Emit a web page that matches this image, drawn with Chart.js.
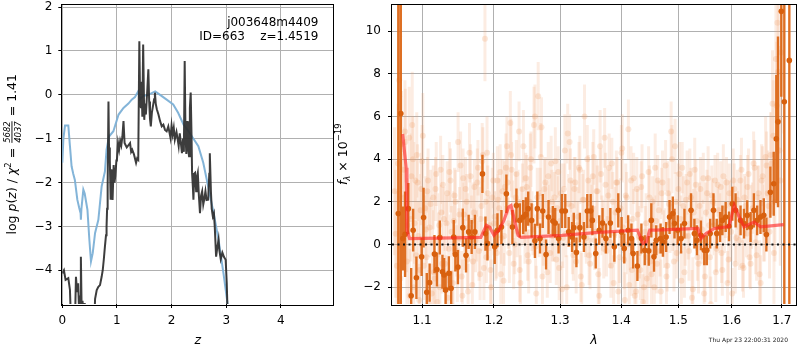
<!DOCTYPE html>
<html><head><meta charset="utf-8">
<script src="https://cdn.jsdelivr.net/npm/chart.js@4.4.1/dist/chart.umd.min.js"></script>
<style>
html,body{margin:0;padding:0;background:#fff}
#wrap{position:relative;width:800px;height:350px;overflow:hidden;background:#fff}
canvas{position:absolute;top:0}
</style>
</head><body>
<div id="wrap">
<canvas id="pz" width="336" height="350" style="left:0"></canvas>
<canvas id="sp" width="470" height="350" style="left:330px"></canvas>
</div>
<script>
// ---------------- Left panel: log p(z) ----------------
const zLimits = [0, 4.96];
const pzLimits = [-4.77, 2.06];
const zTicks = [0, 1, 2, 3, 4];
const pzTicks = [-4, -3, -2, -1, 0, 1, 2];

const zBlue = [0.00,0.02,0.05,0.11,0.14,0.17,0.20,0.23,0.275,0.31,0.335,0.34,0.35,0.385,0.41,0.46,0.495,0.525,0.557,0.60,0.66,0.72,0.78,0.81,0.855,0.935,1.03,1.12,1.21,1.27,1.33,1.39,1.42,1.48,1.575,1.70,1.79,1.91,2.03,2.12,2.22,2.31,2.40,2.49,2.58,2.67,2.77,2.86,2.95,3.05];
const pzBlue = [-1.55,-1.0,-0.70,-0.70,-1.17,-1.63,-1.80,-1.94,-2.39,-2.58,-2.70,-2.85,-2.6,-2.16,-2.25,-2.62,-3.3,-3.80,-3.61,-3.15,-2.85,-2.09,-1.75,-1.25,-0.95,-0.83,-0.45,-0.30,-0.20,-0.11,-0.05,0.08,-0.10,-0.03,0.0,0.08,0.0,-0.11,-0.22,-0.41,-0.68,-0.83,-1.0,-1.17,-1.55,-2.09,-2.70,-3.31,-4.07,-5.0];

const zBlack = [0.00,0.03,0.06,0.11,0.14,0.16,0.23,0.25,0.27,0.29,0.31,0.33,0.34,0.355,0.37,0.39,0.41,0.44,0.58,0.60,0.63,0.66,0.69,0.72,0.74,0.76,0.78,0.80,0.81,0.82,0.83,0.845,0.855,0.87,0.885,0.895,0.905,0.92,0.94,0.955,0.97,0.99,1.00,1.02,1.04,1.06,1.08,1.10,1.12,1.14,1.16,1.18,1.21,1.24,1.26,1.28,1.31,1.33,1.35,1.37,1.39,1.41,1.425,1.44,1.45,1.465,1.48,1.50,1.515,1.53,1.555,1.575,1.59,1.605,1.62,1.64,1.66,1.68,1.695,1.71,1.73,1.76,1.79,1.82,1.85,1.88,1.91,1.94,1.96,1.98,2.00,2.02,2.04,2.06,2.09,2.11,2.13,2.15,2.17,2.19,2.21,2.225,2.24,2.255,2.27,2.285,2.30,2.32,2.335,2.35,2.365,2.375,2.39,2.40,2.415,2.43,2.45,2.46,2.48,2.50,2.52,2.54,2.56,2.58,2.60,2.62,2.64,2.67,2.69,2.70,2.72,2.735,2.755,2.775,2.79,2.815,2.835,2.86,2.875,2.90,2.93,2.96,2.99,3.01,3.03];
const pzBlack = [-4.07,-4.00,-4.22,-4.18,-4.45,-5.2,-5.3,-4.15,-4.5,-4.3,-5.0,-4.6,-3.69,-5.0,-4.7,-5.0,-4.75,-5.4,-5.4,-4.65,-4.45,-4.38,-4.34,-4.15,-4.0,-3.75,-3.46,-3.2,-3.0,-2.6,-2.09,-0.15,-1.2,-1.5,-2.39,-1.7,-1.8,-2.4,-1.6,-2.0,-1.85,-1.5,-1.48,-1.1,-1.25,-1.05,-1.15,-0.95,-0.6,-1.1,-1.15,-1.2,-1.15,-1.1,-1.3,-1.25,-1.35,-1.45,-1.55,-1.45,-1.48,1.22,-0.2,-0.3,0.3,-0.5,1.15,-0.57,-0.2,-0.45,0.1,0.58,-0.15,-0.55,-0.72,-0.4,-0.25,-0.1,0.05,-0.2,-0.33,-0.45,-0.6,-0.72,-0.68,-0.8,-0.83,-0.72,-0.85,-0.98,-0.7,-0.9,-0.75,-1.02,-0.85,-1.0,-1.17,-0.88,-1.1,-1.33,-1.0,-1.3,0.77,-0.9,-1.35,-0.6,-1.2,-1.4,-0.3,0.05,-0.9,-1.78,-2.1,-2.39,-1.8,-1.78,-2.2,-1.9,-1.78,-2.3,-2.70,-2.3,-2.2,-2.5,-2.37,-2.2,-2.4,-2.39,-1.8,-1.33,-2.2,-2.6,-2.77,-2.7,-3.0,-3.69,-3.5,-3.3,-3.55,-3.75,-3.6,-3.7,-3.76,-4.3,-5.2];

const objName = "j003648m4409";
const objInfo = "ID=663    z=1.4519";

// ---------------- Right panel: spectrum ----------------
const lamLimits = [1.0607, 1.7295];
const fluxLimits = [-2.79, 11.25];
const lamTicks = [1.1, 1.2, 1.3, 1.4, 1.5, 1.6, 1.7];
const fluxTicks = [-2, 0, 2, 4, 6, 8, 10];

const boldWave = [1.0688,1.0721,1.0747,1.0776,1.0819,1.0856,1.0882,1.0925,1.0994,1.1020,1.1063,1.1101,1.1166,1.1200,1.1239,1.1275,1.1297,1.1318,1.1363,1.1394,1.1430,1.1452,1.1488,1.1556,1.1601,1.1638,1.1680,1.1726,1.1834,1.1877,1.1906,1.2011,1.2051,1.2109,1.2182,1.2271,1.2331,1.2381,1.2432,1.2472,1.2508,1.2559,1.2610,1.2647,1.2688,1.2730,1.2781,1.2819,1.2886,1.2923,1.2976,1.3029,1.3082,1.3136,1.3190,1.3217,1.3259,1.3315,1.3380,1.3435,1.3490,1.3518,1.3573,1.3630,1.3685,1.3741,1.3815,1.3882,1.3948,1.4004,1.4050,1.4116,1.4172,1.4201,1.4275,1.4344,1.4402,1.4472,1.4517,1.4564,1.4604,1.4681,1.4722,1.4780,1.4841,1.4900,1.4930,1.4990,1.5050,1.5111,1.5232,1.5294,1.5341,1.5415,1.5478,1.5526,1.5589,1.5651,1.5713,1.5777,1.5821,1.5884,1.5948,1.6012,1.6076,1.6173,1.6240,1.6304,1.6370,1.6436,1.6501,1.6567,1.6634,1.6686,1.6767,1.6835,1.6888,1.6922,1.6990,1.7052,1.7156];
const boldFlux = [1.45,6.14,0.28,0.48,1.68,-2.4,0.67,-1.56,-0.58,1.26,-2.24,-1.79,-0.45,-1.17,0.33,-1.28,-1.43,-2.13,-1.35,-2.05,0.35,-0.47,-1.06,0.79,-0.51,0.59,0.35,0.59,3.31,0.51,0.05,-0.11,0.67,0.82,2.38,0.82,1.83,1.13,1.29,1.41,1.68,1.13,0.17,1.68,0.28,1.57,-0.47,1.29,1.1,1.01,0.28,1.57,1.57,0.59,0.35,0.79,-0.37,0.79,0.35,1.57,1.57,1.13,-0.42,0.67,1.01,0.28,1.01,-0.11,1.6,0.59,-0.19,0.67,0.28,-0.42,-1.01,0.28,-0.27,-0.3,1.13,-0.58,0.2,0.28,0.12,0.35,1.29,1.45,0.98,0.67,0.28,0.98,1.6,0.51,0.2,0.43,-0.27,-0.27,0.51,1.6,0.51,0.82,1.13,1.29,0.85,1.91,1.6,1.13,0.98,1.37,0.82,1.6,1.13,1.29,1.37,0.47,2.45,2.85,4.95,5.75,10.93,6.69,8.63];
const boldErr = [30,30,1.5,2.0,1.2,1.3,1.0,1.0,0.9,1.4,0.9,0.9,0.9,0.8,0.8,0.8,0.8,0.8,0.8,0.8,0.8,0.8,0.8,0.9,0.8,0.8,0.8,0.8,0.9,0.8,0.8,0.8,0.8,0.8,0.9,0.8,0.8,0.8,0.8,0.8,0.8,0.8,0.8,0.8,0.7,0.8,0.7,0.8,0.7,0.7,0.7,0.8,0.8,0.7,0.7,0.7,0.7,0.7,0.7,0.8,0.8,0.7,0.7,0.7,0.7,0.7,0.7,0.7,0.8,0.7,0.7,0.7,0.7,0.7,0.7,0.7,0.7,0.7,0.8,0.7,0.7,0.7,0.7,0.7,0.8,0.8,0.7,0.7,0.7,0.7,0.8,0.7,0.7,0.7,0.7,0.7,0.7,0.8,0.7,0.7,0.7,0.7,0.7,0.8,0.8,0.7,0.7,0.7,0.7,0.8,0.7,0.8,0.8,0.8,1.2,1.5,3.0,4.0,4.0,30,30];

const faintWave = [1.064,1.067,1.070,1.073,1.076,1.078,1.080,1.083,1.085,1.087,1.089,1.091,1.093,1.095,1.097,1.099,1.101,1.104,1.106,1.108,1.110,1.113,1.115,1.117,1.119,1.122,1.124,1.126,1.128,1.131,1.133,1.135,1.137,1.140,1.142,1.144,1.147,1.149,1.151,1.154,1.156,1.158,1.161,1.163,1.165,1.168,1.170,1.172,1.175,1.177,1.180,1.182,1.184,1.187,1.189,1.191,1.194,1.196,1.199,1.201,1.204,1.206,1.209,1.211,1.214,1.216,1.219,1.221,1.224,1.226,1.229,1.232,1.234,1.237,1.239,1.242,1.245,1.247,1.250,1.253,1.255,1.258,1.261,1.263,1.266,1.269,1.271,1.274,1.277,1.280,1.283,1.286,1.288,1.291,1.294,1.297,1.300,1.303,1.306,1.309,1.312,1.315,1.318,1.321,1.324,1.327,1.330,1.333,1.336,1.339,1.342,1.345,1.348,1.351,1.354,1.357,1.360,1.363,1.366,1.369,1.372,1.375,1.378,1.381,1.384,1.387,1.390,1.393,1.397,1.400,1.403,1.406,1.409,1.412,1.415,1.418,1.421,1.425,1.428,1.431,1.434,1.437,1.441,1.444,1.447,1.450,1.454,1.457,1.460,1.463,1.467,1.470,1.473,1.477,1.480,1.483,1.487,1.490,1.494,1.497,1.500,1.504,1.507,1.511,1.514,1.518,1.521,1.525,1.528,1.532,1.535,1.539,1.542,1.546,1.549,1.553,1.557,1.560,1.564,1.568,1.571,1.575,1.579,1.582,1.586,1.590,1.594,1.597,1.601,1.605,1.609,1.613,1.617,1.621,1.625,1.629,1.633,1.637,1.641,1.645,1.649,1.653,1.657,1.661,1.665,1.669,1.673,1.677,1.681,1.684,1.688,1.691,1.694,1.697];
const faintFlux = [2.5,-1.0,7.7,4.7,3.5,4.8,-0.8,5.0,1.2,5.6,-2.0,3.0,4.2,0.4,-1.2,2.6,5.1,1.7,-0.6,3.0,0.8,-2.3,2.2,-1.6,3.3,0.2,-2.0,1.5,2.8,-0.9,1.0,-2.5,3.4,0.6,-1.8,2.3,-0.3,4.8,1.4,-1.5,3.1,0.0,2.0,-2.2,4.3,1.1,-0.8,2.7,0.4,3.6,-1.4,1.8,4.2,9.65,-0.6,2.4,0.9,-2.0,3.0,1.3,-0.4,2.1,3.4,0.3,-1.7,2.7,4.6,1.0,5.7,3.5,-0.9,2.2,0.6,5.3,-1.8,2.6,1.2,3.1,-0.5,2.0,4.0,0.7,6.0,-2.3,6.95,2.4,5.5,0.2,2.9,-1.3,1.6,3.8,0.4,2.2,-0.7,3.4,1.1,-2.1,2.6,0.5,5.2,4.8,1.8,-0.5,2.9,0.9,3.6,-1.5,2.1,6.0,0.3,3.0,-0.9,1.7,4.1,0.6,2.5,-2.4,3.3,1.0,5.0,-0.3,2.3,0.1,3.8,-1.8,1.5,2.9,-0.6,4.3,0.8,-2.6,2.2,5.4,0.0,-1.2,3.1,-2.2,1.4,-0.4,2.7,-2.7,0.6,-1.6,3.4,-0.8,2.0,-2.0,1.1,3.0,-0.3,2.4,0.5,3.7,-1.0,1.9,5.3,0.8,4.6,-0.4,2.6,1.2,3.6,-1.3,2.1,0.4,3.3,-2.5,1.5,2.8,-0.6,1.8,0.2,3.1,-1.5,2.4,0.9,-2.8,2.0,3.0,-0.2,1.6,2.7,-1.2,0.7,2.9,-0.7,1.9,-2.3,2.6,0.3,1.4,3.0,-1.0,2.2,0.5,3.3,-0.9,1.7,3.6,-0.5,2.4,-1.8,3.2,0.6,3.7,1.8,4.2,6.6,-0.4,8.7,10.4,5.8,3.0];
const faintErr = [3.0,3.5,3.5,2.5,2.0,2.5,2.0,2.4,2.0,2.5,2.0,1.8,2.0,1.6,1.6,1.7,2.0,1.5,1.5,1.5,1.4,1.4,1.5,1.3,1.5,1.3,1.4,1.3,1.4,1.3,1.3,1.3,1.4,1.2,1.3,1.3,1.2,1.4,1.3,1.2,1.4,1.2,1.3,1.3,1.4,1.2,1.2,1.3,1.2,1.3,1.2,1.3,1.3,2.0,1.2,1.3,1.2,1.3,1.3,1.2,1.2,1.2,1.3,1.2,1.3,1.2,1.4,1.2,1.5,1.3,1.2,1.2,1.2,1.4,1.3,1.2,1.2,1.2,1.2,1.2,1.3,1.2,1.5,1.3,1.6,1.2,1.4,1.2,1.2,1.2,1.2,1.3,1.2,1.2,1.2,1.2,1.2,1.3,1.2,1.1,1.4,1.3,1.2,1.2,1.2,1.1,1.2,1.2,1.2,1.5,1.2,1.2,1.2,1.1,1.3,1.2,1.2,1.3,1.2,1.1,1.4,1.2,1.2,1.2,1.2,1.3,1.2,1.2,1.2,1.3,1.2,1.3,1.2,1.4,1.2,1.2,1.2,1.3,1.2,1.2,1.2,1.3,1.2,1.2,1.2,1.2,1.2,1.2,1.2,1.2,1.2,1.2,1.1,1.2,1.2,1.2,1.4,1.1,1.3,1.2,1.2,1.1,1.2,1.2,1.2,1.1,1.2,1.3,1.1,1.2,1.1,1.1,1.1,1.2,1.2,1.1,1.1,1.3,1.1,1.2,1.1,1.1,1.2,1.2,1.1,1.2,1.1,1.1,1.2,1.2,1.1,1.1,1.2,1.2,1.1,1.1,1.2,1.2,1.2,1.3,1.2,1.3,1.3,1.4,1.4,1.6,1.8,2.0,2.5,2.5,3.0,3.5,3.5,4.0];

const faint2Wave = [1.0655,1.0685,1.0715,1.0745,1.0775,1.0805,1.0835,1.0860,1.0880,1.0900,
1.0920,1.0940,1.0960,1.0980,1.1000,1.1025,1.1050,1.1070,1.1090,1.1115,
1.1140,1.1160,1.1180,1.1205,1.1230,1.1250,1.1270,1.1295,1.1320,1.1340,
1.1360,1.1385,1.1410,1.1430,1.1455,1.1480,1.1500,1.1525,1.1550,1.1570,
1.1595,1.1620,1.1640,1.1665,1.1690,1.1710,1.1735,1.1760,1.1785,1.1810,
1.1830,1.1855,1.1880,1.1900,1.1925,1.1950,1.1975,1.2000,1.2025,1.2050,
1.2075,1.2100,1.2125,1.2150,1.2175,1.2200,1.2225,1.2250,1.2275,1.2305,
1.2330,1.2355,1.2380,1.2405,1.2435,1.2460,1.2485,1.2515,1.2540,1.2565,
1.2595,1.2620,1.2645,1.2675,1.2700,1.2725,1.2755,1.2785,1.2815,1.2845,
1.2870,1.2900,1.2925,1.2955,1.2985,1.3015,1.3045,1.3075,1.3105,1.3135,
1.3165,1.3195,1.3225,1.3255,1.3285,1.3315,1.3345,1.3375,1.3405,1.3435,
1.3465,1.3495,1.3525,1.3555,1.3585,1.3615,1.3645,1.3675,1.3705,1.3735,
1.3765,1.3795,1.3825,1.3855,1.3885,1.3915,1.3950,1.3985,1.4015,1.4045,
1.4075,1.4105,1.4135,1.4165,1.4195,1.4230,1.4265,1.4295,1.4325,1.4355,
1.4390,1.4425,1.4455,1.4485,1.4520,1.4555,1.4585,1.4615,1.4650,1.4685,
1.4715,1.4750,1.4785,1.4815,1.4850,1.4885,1.4920,1.4955,1.4985,1.5020,
1.5055,1.5090,1.5125,1.5160,1.5195,1.5230,1.5265,1.5300,1.5335,1.5370,
1.5405,1.5440,1.5475,1.5510,1.5550,1.5585,1.5620,1.5660,1.5695,1.5730,
1.5770,1.5805,1.5840,1.5880,1.5920,1.5955,1.5990,1.6030,1.6070,1.6110,
1.6150,1.6190,1.6230,1.6270,1.6310,1.6350,1.6390,1.6430,1.6470,1.6510,
1.6550,1.6590,1.6630,1.6670,1.6710,1.6750,1.6790,1.6825,1.6860,1.6895,
1.6925,1.6955,1.6985];
const faint2Flux = [0.5,3.8,-1.6,2.2,5.3,0.9,-2.4,3.2,4.0,1.0,
-0.5,2.9,-2.6,1.6,3.9,-1.0,0.7,2.5,-2.8,1.9,
0.1,-1.3,2.6,-2.7,0.9,3.5,-0.9,1.2,-2.1,2.4,
-0.2,3.0,-2.9,1.1,2.0,-1.1,0.3,3.7,-2.4,1.4,
2.6,-0.7,0.8,3.2,-1.9,1.5,0.2,2.9,-0.3,1.2,
3.9,-1.1,2.0,4.3,0.8,-1.2,2.2,1.0,-0.2,3.0,
1.7,-1.4,2.5,0.4,3.6,2.9,-0.4,4.2,1.5,0.0,
3.3,2.0,-1.2,1.3,4.6,0.5,2.7,-0.8,3.6,1.1,
5.6,-0.1,2.2,0.9,4.1,-1.5,2.6,1.4,3.2,-0.4,
2.0,0.6,3.9,1.7,-1.1,2.4,0.3,4.4,-2.0,1.9,
3.0,0.0,2.6,-0.8,1.3,3.5,-1.9,2.1,0.8,4.0,
-0.5,1.6,3.2,0.2,2.5,-1.4,4.6,0.9,-0.2,2.8,
1.2,3.6,-1.0,2.0,0.5,2.9,-2.2,1.7,4.5,-0.7,
2.3,0.0,-1.9,3.0,1.2,-2.4,2.6,0.4,-1.2,3.2,
-2.0,1.0,-0.6,2.2,-1.4,0.8,3.6,-0.9,1.6,-2.2,
2.9,0.3,-1.5,2.4,1.0,4.0,-0.8,2.0,0.6,3.3,
-1.7,1.8,0.4,2.9,-0.3,2.2,-2.1,3.5,1.1,-0.9,
2.6,0.7,-2.3,1.5,3.1,-0.6,2.3,0.9,-1.3,2.8,
1.0,-0.4,3.2,1.7,-1.8,2.4,0.6,3.0,-0.9,2.1,
0.2,3.5,-1.1,1.8,2.7,-0.6,1.3,3.8,0.1,2.2,
-1.4,3.0,1.0,4.1,2.4,0.6,3.8,5.1,2.0,6.5,
8.1,4.4,9.0];
const faint2Err = [3.0,2.8,2.6,2.5,2.4,2.2,2.2,2.0,2.0,1.9,
1.8,1.8,1.7,1.7,1.7,1.6,1.6,1.6,1.6,1.6,
1.5,1.6,1.5,1.7,1.5,1.6,1.4,1.5,1.6,1.5,
1.6,1.5,1.7,1.4,1.5,1.6,1.4,1.6,1.7,1.5,
1.5,1.4,1.6,1.5,1.7,1.4,1.5,1.6,1.4,1.5,
1.8,1.5,1.4,1.7,1.5,1.6,1.4,1.5,1.5,1.6,
1.4,1.6,1.5,1.4,1.6,1.5,1.4,1.7,1.5,1.4,
1.6,1.5,1.5,1.4,1.7,1.4,1.5,1.5,1.6,1.4,
1.8,1.5,1.4,1.5,1.6,1.5,1.4,1.5,1.6,1.4,
1.5,1.4,1.6,1.5,1.5,1.4,1.4,1.7,1.5,1.4,
1.5,1.4,1.5,1.5,1.4,1.6,1.5,1.4,1.4,1.6,
1.4,1.5,1.6,1.4,1.5,1.5,1.7,1.4,1.4,1.5,
1.4,1.6,1.5,1.4,1.4,1.5,1.5,1.4,1.6,1.4,
1.5,1.4,1.5,1.6,1.4,1.5,1.5,1.4,1.4,1.5,
1.5,1.4,1.4,1.5,1.5,1.4,1.6,1.4,1.4,1.5,
1.5,1.4,1.4,1.5,1.4,1.6,1.4,1.4,1.4,1.5,
1.4,1.4,1.4,1.5,1.4,1.4,1.5,1.5,1.4,1.4,
1.5,1.4,1.5,1.4,1.5,1.4,1.4,1.4,1.4,1.5,
1.4,1.4,1.5,1.4,1.5,1.4,1.4,1.5,1.4,1.4,
1.4,1.5,1.4,1.4,1.5,1.4,1.5,1.5,1.5,1.5,
1.6,1.7,1.8,1.9,2.0,2.2,2.4,2.6,2.8,3.0,
3.2,3.5,3.8];

const modelWave = [1.0745,1.079,1.080,1.0835,1.181,1.189,1.194,1.200,1.207,1.2146,1.2215,1.225,1.229,1.2355,1.240,1.303,1.356,1.4275,1.437,1.4428,1.449,1.460,1.536,1.5418,1.551,1.5667,1.595,1.605,1.6145,1.624,1.644,1.657,1.704];
const modelFlux = [5.18,3.6,0.67,0.28,0.33,0.9,0.8,0.43,0.67,1.13,1.76,1.83,1.29,0.43,0.33,0.43,0.56,0.67,0.05,0.1,0.67,0.67,0.75,0.28,0.51,0.75,0.84,1.84,1.3,0.83,1.05,0.83,0.93];

const stamp = "Thu Apr 23 22:00:31 2020";

// ---------------- helpers ----------------
const FONT = "'DejaVu Sans', 'Liberation Sans', sans-serif";
const xy = (xs, ys) => xs.map((x, i) => ({x: x, y: ys[i]}));
function errSegments(xs, ys, es) {
  const out = [];
  xs.forEach((x, i) => {
    out.push({x: x, y: ys[i] - es[i]});
    out.push({x: x, y: ys[i] + es[i]});
    out.push({x: x, y: NaN});
  });
  return out;
}
const fmt = v => (v < 0 ? '\u2212' + Math.abs(v) : String(v));

function drawParts(ctx, parts, x, y) {
  let w = 0;
  parts.forEach(p => {
    ctx.font = p.font;
    p.w = p.frac ? Math.max(ctx.measureText(p.num).width, ctx.measureText(p.den).width) + 2 : ctx.measureText(p.t).width;
    w += p.w;
  });
  let cx = x - w / 2;
  ctx.textBaseline = 'alphabetic';
  parts.forEach(p => {
    ctx.font = p.font;
    if (p.frac) {
      ctx.textAlign = 'center';
      ctx.fillText(p.num, cx + p.w / 2, y - p.up);
      ctx.fillText(p.den, cx + p.w / 2, y + p.down);
      ctx.fillRect(cx + 1, y - p.bar, p.w - 2, 0.9);
      ctx.textAlign = 'left';
    } else {
      ctx.textAlign = 'left';
      ctx.fillText(p.t, cx, y + (p.dy || 0));
    }
    cx += p.w;
  });
}

function frameBox(chart) {
  const ca = chart.chartArea, ctx = chart.ctx;
  ctx.save();
  ctx.strokeStyle = '#000';
  ctx.lineWidth = 1;
  ctx.strokeRect(Math.round(ca.left) - 0.5, Math.round(ca.top) - 0.5, Math.round(ca.right - ca.left) + 1, Math.round(ca.bottom - ca.top) + 1);
  ctx.restore();
}

function axisOpts(lim, ticks, isX, size, pad, extra) {
  const o = {
    type: 'linear', min: lim[0], max: lim[1],
    afterBuildTicks: s => { s.ticks = ticks.map(v => ({value: v})); },
    grid: {color: '#b0b0b0', lineWidth: 1, tickLength: 4, tickColor: '#000', tickWidth: 1, drawTicks: true},
    border: {display: false},
    ticks: {color: '#000', font: {family: FONT, size: 12}, padding: pad, maxRotation: 0, autoSkip: false, callback: v => fmt(v)}
  };
  if (isX) o.afterFit = s => { s.height = size; s.paddingLeft = 0; s.paddingRight = 0; };
  else o.afterFit = s => { s.width = size; s.paddingTop = 0; s.paddingBottom = 0; };
  return Object.assign(o, extra || {});
}

const common = {
  animation: false, responsive: false, devicePixelRatio: 1, events: [],
  plugins: {legend: {display: false}, tooltip: {enabled: false}}
};

// ---------------- left chart ----------------
new Chart(document.getElementById('pz'), {
  type: 'scatter',
  data: {datasets: [
    {data: xy(zBlack, pzBlack), showLine: true, pointRadius: 0, borderColor: 'rgba(45,45,45,0.92)', borderWidth: 2, order: 0, tension: 0},
    {data: xy(zBlue, pzBlue), showLine: true, pointRadius: 0, borderColor: 'rgba(124,176,214,0.95)', borderWidth: 2, order: 1, tension: 0}
  ]},
  options: Object.assign({}, common, {
    layout: {padding: {left: 0, top: 4.5, right: 2.7, bottom: 0}},
    scales: {
      x: axisOpts(zLimits, zTicks, true, 46, 6),
      y: axisOpts(pzLimits, pzTicks, false, 62.3, 6)
    }
  }),
  plugins: [{
    id: 'deco1',
    afterDraw(chart) {
      frameBox(chart);
      const ctx = chart.ctx, ca = chart.chartArea;
      ctx.save();
      ctx.fillStyle = '#000';
      ctx.font = '12px ' + FONT;
      ctx.textAlign = 'right'; ctx.textBaseline = 'alphabetic';
      ctx.fillText(objName, 318.5, 25.5);
      ctx.fillText(objInfo, 318.5, 39.5);
      ctx.font = 'italic 12.5px ' + FONT;
      ctx.textAlign = 'center';
      ctx.fillText('z', (ca.left + ca.right) / 2, 344);
      ctx.translate(15.5, (ca.top + ca.bottom) / 2);
      ctx.rotate(-Math.PI / 2);
      const f = '12.5px ' + FONT, fi = 'italic 12.5px ' + FONT, fs = '8.5px ' + FONT, fsi = 'italic 8.5px ' + FONT;
      drawParts(ctx, [
        {t: 'log ', font: f}, {t: 'p', font: fi}, {t: '(', font: f}, {t: 'z', font: fi}, {t: ') / ', font: f},
        {t: '\u03c7', font: fi}, {t: '2', font: fs, dy: -5}, {t: ' = ', font: f},
        {frac: true, num: '5682', den: '4037', font: fsi, up: 5.5, down: 5.5, bar: 4},
        {t: ' = 1.41', font: f}
      ], 0, 0);
      ctx.restore();
    }
  }]
});

// ---------------- right chart ----------------
const zeroLine = [{x: lamLimits[0], y: 0}, {x: lamLimits[1], y: 0}];
new Chart(document.getElementById('sp'), {
  type: 'scatter',
  data: {datasets: [
    {data: zeroLine, showLine: true, pointRadius: 0, borderColor: '#111', borderWidth: 2, borderDash: [2, 3.5], order: 0},
    {data: xy(modelWave, modelFlux), showLine: true, pointRadius: 0, borderColor: 'rgba(255,35,35,0.62)', borderWidth: 3.2, order: 1, tension: 0},
    {data: xy(boldWave, boldFlux), showLine: false, pointRadius: 2.8, pointBorderWidth: 0, backgroundColor: 'rgb(216,96,14)', order: 2},
    {data: errSegments(boldWave, boldFlux, boldErr), showLine: true, spanGaps: false, pointRadius: 0, borderColor: 'rgba(220,104,24,0.95)', borderWidth: 2.4, borderCapStyle: 'butt', order: 3},
    {data: xy(faintWave, faintFlux), showLine: false, pointRadius: 3, pointBorderWidth: 0, backgroundColor: 'rgba(238,150,90,0.22)', order: 4},
    {data: xy(faint2Wave, faint2Flux), showLine: false, pointRadius: 3, pointBorderWidth: 0, backgroundColor: 'rgba(238,150,90,0.22)', order: 4},
    {data: errSegments(faintWave, faintFlux, faintErr), showLine: true, spanGaps: false, pointRadius: 0, borderColor: 'rgba(240,160,110,0.2)', borderWidth: 3, borderCapStyle: 'butt', order: 5},
    {data: errSegments(faint2Wave, faint2Flux, faint2Err), showLine: true, spanGaps: false, pointRadius: 0, borderColor: 'rgba(240,160,110,0.2)', borderWidth: 3, borderCapStyle: 'butt', order: 5}
  ]},
  options: Object.assign({}, common, {
    layout: {padding: {left: 0, top: 4.5, right: 1, bottom: 0}},
    scales: {
      x: axisOpts(lamLimits, lamTicks, true, 46, 6, {type: 'logarithmic', ticks: {color: '#000', font: {family: FONT, size: 12}, padding: 6, maxRotation: 0, autoSkip: false, callback: v => Number(v).toFixed(1)}}),
      y: axisOpts(fluxLimits, fluxTicks, false, 62, 7)
    }
  }),
  plugins: [{
    id: 'deco2',
    afterDraw(chart) {
      frameBox(chart);
      const ctx = chart.ctx, ca = chart.chartArea;
      ctx.save();
      ctx.fillStyle = '#000';
      ctx.font = 'italic 12.5px ' + FONT;
      ctx.textAlign = 'center'; ctx.textBaseline = 'alphabetic';
      ctx.fillText('\u03bb', (ca.left + ca.right) / 2, 344);
      ctx.fillStyle = '#222';
      ctx.font = '6px ' + FONT;
      ctx.textAlign = 'right';
      ctx.fillText(stamp, 458, 342);
      ctx.fillStyle = '#000';
      ctx.translate(16.5, (ca.top + ca.bottom) / 2);
      ctx.rotate(-Math.PI / 2);
      const f = '12.5px ' + FONT, fi = 'italic 12.5px ' + FONT, fs = '8.5px ' + FONT, fsi = 'italic 8.5px ' + FONT;
      drawParts(ctx, [
        {t: 'f', font: fi}, {t: '\u03bb', font: fsi, dy: 3}, {t: ' \u00d7 10', font: f}, {t: '\u221219', font: fs, dy: -6}
      ], 0, 0);
      ctx.restore();
    }
  }]
});
</script>
</body></html>
